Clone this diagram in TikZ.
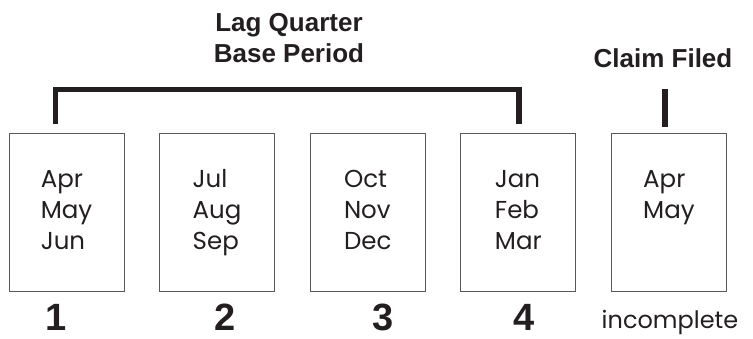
\documentclass[tikz,border=0pt]{standalone}
\usepackage{fontspec}
\usepackage{tikz}
\usetikzlibrary{positioning}
\setmainfont{Poppins}
\newfontfamily\labelfont{Liberation Sans}
\definecolor{ink}{HTML}{231F20}

\begin{document}
\begin{tikzpicture}[x=1pt, y=-1pt, node distance={150.6pt},
  main/.style = {draw=black!65, line width=0.8pt, rectangle, minimum width=115pt, minimum height=158pt, inner sep=0pt, align=left, text=ink, font=\fontsize{24.5}{31}\selectfont},
  head/.style = {text=ink, align=center, inner sep=0pt, font=\labelfont\bfseries\fontsize{26}{31}\selectfont},
  num/.style = {text=ink, inner sep=0pt, anchor=base, font=\labelfont\bfseries\fontsize{38}{38}\selectfont},
  bar/.style = {draw=ink, line width=5.5pt}]
\useasboundingbox (0,0) rectangle (753,339);

\node[main] (1) at (66.5,212) {\strut Apr\\May\\Jun\strut};
\node[main] (2) [right of=1] {\strut Jul\\Aug\\Sep\strut};
\node[main] (3) [right of=2] {\strut Oct\\Nov\\Dec\strut};
\node[main] (4) [right of=3] {\strut Jan\\Feb\\Mar\strut};
\node[main] (5) [right of=4] {\strut Apr\\May\\\strut};

\node[head] (6) at (289,38.5) {Lag Quarter\\Base Period};
\node[head, anchor=base] (7) at (663,68) {Claim Filed};

\node[num] (8) at (56,330.5) {1};
\node[num] (9) at (225,330.5) {2};
\node[num] (10) at (383,330.5) {3};
\node[num] (11) at (524,330.5) {4};
\node[text=ink, inner sep=0pt, anchor=base, font=\fontsize{24}{31}\selectfont] (12) at (670,328) {incomplete};

\coordinate (a) at (55.3,124.3);
\coordinate (b) at (519,124.3);
\coordinate (c) at (519,89.5);
\coordinate (d) at (665,89.5);
\coordinate (e) at (665,126.7);

\draw[bar] (a) |- (c) -- (b);
\draw[bar] (d) -- (e);

\end{tikzpicture}
\end{document}
